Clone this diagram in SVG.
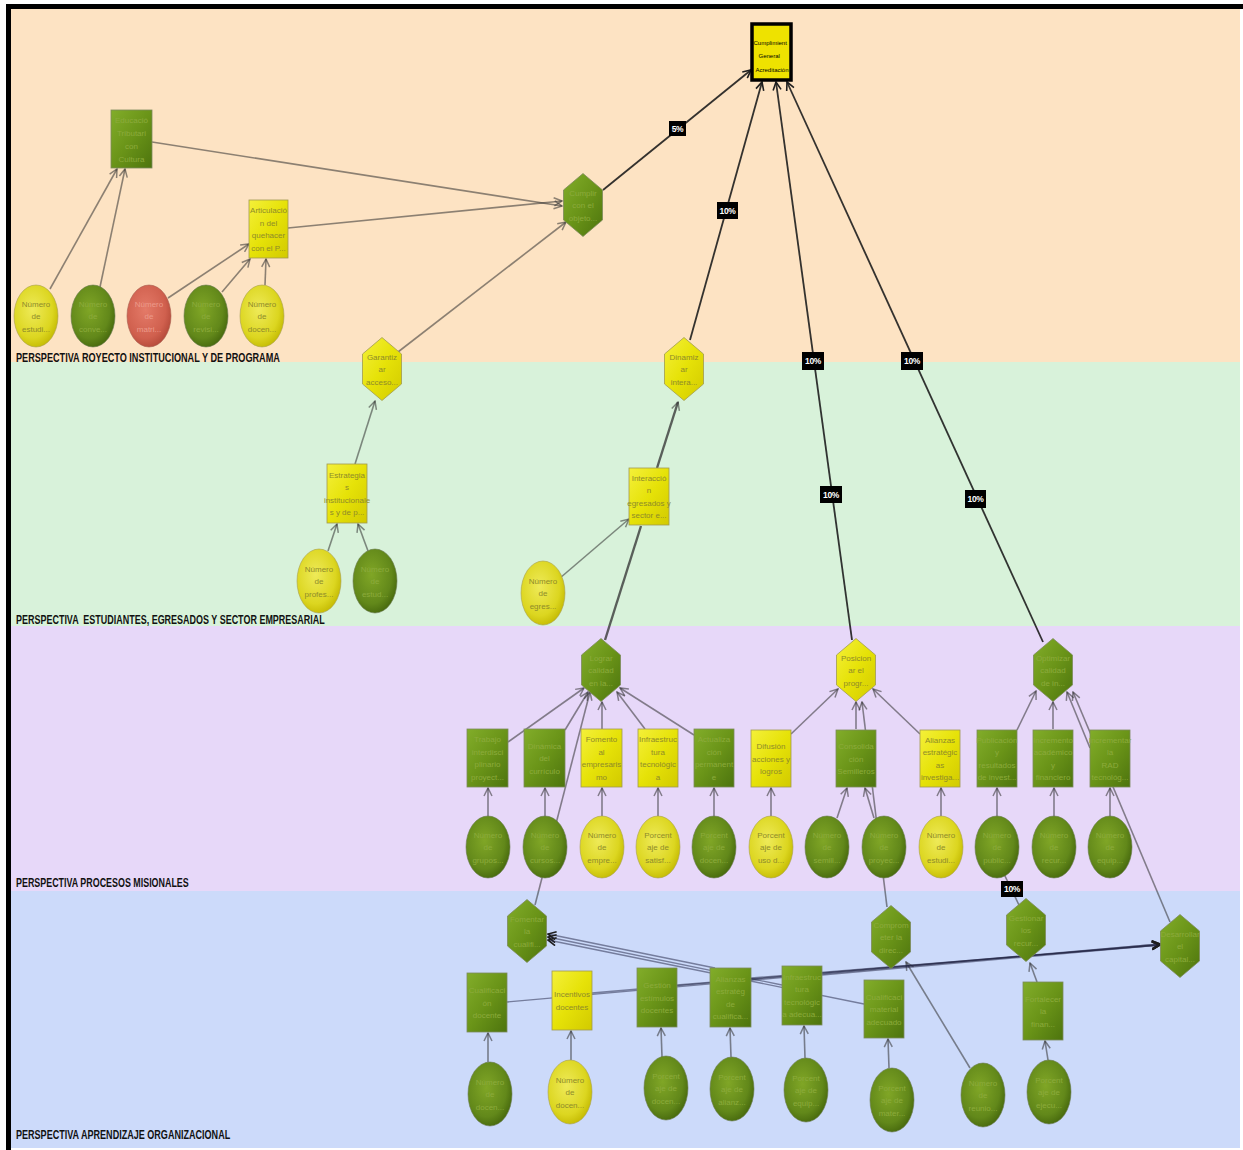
<svg xmlns="http://www.w3.org/2000/svg" width="1243" height="1150" viewBox="0 0 1243 1150">
  <defs>
    <style>
      .bx-g{fill:url(#lgGreen);stroke:#7c8a5c;stroke-width:0.8}
      .bx-y{fill:url(#lgYellow);stroke:#a09a50;stroke-width:0.8}
      .el-g{fill:url(#rgGreen);stroke:#6a7a50;stroke-width:0.6}
      .el-y{fill:url(#rgYellow);stroke:#a8a050;stroke-width:0.6}
      .el-r{fill:url(#rgRed);stroke:#a86050;stroke-width:0.6}
      .t{font-family:"Liberation Sans",Arial,sans-serif;font-size:8px;text-anchor:middle}
      .tg{fill:#8cab3c}
      .ty{fill:#8e8b2a}
      .tr{fill:#ec9a8a}
      .e{stroke:#303030;stroke-opacity:0.55;stroke-width:1.6;fill:none;marker-end:url(#arr)}
      .en{stroke:#303030;stroke-opacity:0.55;stroke-width:1.6;fill:none}
      .ed{stroke:#1e1e1e;stroke-opacity:0.9;stroke-width:1.8;fill:none;marker-end:url(#arrD)}
      .eb{stroke:#1e2040;stroke-opacity:0.5;stroke-width:1.3;fill:none;marker-end:url(#arrD)}
      .ek{stroke:#3a3a3a;stroke-opacity:0.8;stroke-width:2.4;fill:none}
      .pct rect{fill:#000}
      .pct text{font-family:"Liberation Sans",Arial,sans-serif;font-size:8.5px;font-weight:bold;fill:#fff;text-anchor:middle;letter-spacing:-0.4px}
      .band-label{font-family:"Liberation Sans",Arial,sans-serif;font-size:13px;font-weight:bold;fill:#111}
    </style>
    <linearGradient id="lgGreen" x1="0" y1="0" x2="1" y2="1">
      <stop offset="0" stop-color="#82ad2a"/>
      <stop offset="0.5" stop-color="#6a9418"/>
      <stop offset="1" stop-color="#4d740e"/>
    </linearGradient>
    <linearGradient id="lgYellow" x1="0" y1="0" x2="1" y2="1">
      <stop offset="0" stop-color="#f4f03a"/>
      <stop offset="0.5" stop-color="#e6e208"/>
      <stop offset="1" stop-color="#d2ca00"/>
    </linearGradient>
    <radialGradient id="rgGreen" cx="0.42" cy="0.4" r="0.65">
      <stop offset="0" stop-color="#80a626"/>
      <stop offset="0.7" stop-color="#62881a"/>
      <stop offset="1" stop-color="#44660c"/>
    </radialGradient>
    <radialGradient id="rgYellow" cx="0.42" cy="0.4" r="0.65">
      <stop offset="0" stop-color="#eeea58"/>
      <stop offset="0.7" stop-color="#dcd620"/>
      <stop offset="1" stop-color="#c2b800"/>
    </radialGradient>
    <radialGradient id="rgRed" cx="0.42" cy="0.4" r="0.65">
      <stop offset="0" stop-color="#e47a68"/>
      <stop offset="0.7" stop-color="#d0604e"/>
      <stop offset="1" stop-color="#b24838"/>
    </radialGradient>
    <marker id="arr" viewBox="0 0 10 10" refX="9" refY="5" markerWidth="10" markerHeight="10" markerUnits="userSpaceOnUse" orient="auto">
      <path d="M1,1 L9,5 L1,9" fill="none" stroke="#303030" stroke-opacity="0.55" stroke-width="1.5"/>
    </marker>
    <marker id="arrD" viewBox="0 0 10 10" refX="9" refY="5" markerWidth="10" markerHeight="10" markerUnits="userSpaceOnUse" orient="auto">
      <path d="M1,1 L9,5 L1,9" fill="none" stroke="#1e1e1e" stroke-width="1.6"/>
    </marker>
    <polygon id="hex" points="0,-31.5 19.5,-15 19.5,15 0,31.5 -19.5,15 -19.5,-15"/>
  </defs>

  <!-- page and perspective bands -->
  <rect x="0" y="0" width="1243" height="1150" fill="#ffffff"/>
  <rect x="11" y="9" width="1229" height="353" fill="#fde3c3"/>
  <rect x="11" y="362" width="1229" height="264" fill="#d8f2da"/>
  <rect x="11" y="626" width="1229" height="265" fill="#e7d8f9"/>
  <rect x="11" y="891" width="1229" height="257" fill="#ccdafa"/>
  <rect x="6" y="4" width="1237" height="5" fill="#000"/>
  <rect x="6" y="4" width="5" height="1146" fill="#000"/>

  <!-- perspective titles, set in a condensed bold face -->
  <g id="band-labels">
    <text class="band-label" transform="translate(16,362) scale(0.68,1)" textLength="388" lengthAdjust="spacingAndGlyphs">PERSPECTIVA ROYECTO INSTITUCIONAL Y DE PROGRAMA</text>
    <text class="band-label" transform="translate(16,624) scale(0.68,1)" textLength="454" lengthAdjust="spacingAndGlyphs">PERSPECTIVA &#160;ESTUDIANTES, EGRESADOS Y SECTOR EMPRESARIAL</text>
    <text class="band-label" transform="translate(16,887) scale(0.68,1)" textLength="254" lengthAdjust="spacingAndGlyphs">PERSPECTIVA PROCESOS MISIONALES</text>
    <text class="band-label" transform="translate(16,1139) scale(0.68,1)" textLength="315" lengthAdjust="spacingAndGlyphs">PERSPECTIVA APRENDIZAJE ORGANIZACIONAL</text>
  </g>

  <!-- connectors -->
  <g id="connectors">
    <!-- institutional perspective -->
    <line class="e" x1="50" y1="289" x2="117" y2="169"/>
    <line class="e" x1="100" y1="287" x2="125" y2="169"/>
    <line class="e" x1="168" y1="298" x2="249" y2="244"/>
    <line class="e" x1="222" y1="292" x2="250" y2="259"/>
    <line class="e" x1="265" y1="285" x2="266" y2="259"/>
    <line class="e" x1="152" y1="142" x2="562" y2="206"/>
    <line class="e" x1="288" y1="228" x2="562" y2="201"/>
    <line class="e" x1="398" y1="352" x2="566" y2="222"/>
    <line class="ed" x1="603" y1="190" x2="751" y2="70"/>
    <line class="ed" x1="690" y1="340" x2="762" y2="82"/>
    <line class="ed" x1="852" y1="640" x2="776" y2="82"/>
    <line class="ed" x1="1043" y1="642" x2="787" y2="82"/>

    <!-- students / graduates perspective -->
    <line class="e" x1="355" y1="464" x2="375" y2="401"/>
    <line class="e" x1="328" y1="551" x2="337" y2="524"/>
    <line class="e" x1="368" y1="551" x2="358" y2="524"/>
    <line class="e" x1="560" y1="578" x2="629" y2="519"/>
    <line class="ek" x1="657" y1="468" x2="678" y2="402" marker-end="url(#arr)"/>
    <line class="ek" x1="605" y1="640" x2="641" y2="526"/>

    <!-- mission processes perspective -->
    <line class="e" x1="508" y1="742" x2="584" y2="688"/>
    <line class="e" x1="565" y1="730" x2="588" y2="692"/>
    <line class="e" x1="602" y1="729" x2="602" y2="702"/>
    <line class="e" x1="645" y1="729" x2="617" y2="692"/>
    <line class="e" x1="694" y1="735" x2="620" y2="688"/>
    <line class="e" x1="535" y1="905" x2="590" y2="692"/>
    <line class="e" x1="488" y1="816" x2="488" y2="788"/>
    <line class="e" x1="545" y1="816" x2="545" y2="788"/>
    <line class="e" x1="602" y1="816" x2="602" y2="788"/>
    <line class="e" x1="658" y1="816" x2="658" y2="788"/>
    <line class="e" x1="714" y1="816" x2="714" y2="788"/>
    <line class="e" x1="771" y1="816" x2="771" y2="788"/>
    <line class="e" x1="837" y1="818" x2="847" y2="788"/>
    <line class="e" x1="874" y1="818" x2="865" y2="788"/>
    <line class="e" x1="941" y1="816" x2="941" y2="788"/>
    <line class="e" x1="997" y1="816" x2="997" y2="788"/>
    <line class="e" x1="1054" y1="816" x2="1054" y2="788"/>
    <line class="e" x1="1110" y1="816" x2="1110" y2="788"/>
    <line class="e" x1="791" y1="734" x2="838" y2="689"/>
    <line class="e" x1="856" y1="729" x2="856" y2="702"/>
    <line class="e" x1="887" y1="907" x2="862" y2="702"/>
    <line class="e" x1="920" y1="734" x2="873" y2="689"/>
    <line class="e" x1="1017" y1="730" x2="1036" y2="691"/>
    <line class="e" x1="1053" y1="729" x2="1053" y2="702"/>
    <line class="e" x1="1090" y1="748" x2="1067" y2="692"/>
    <line class="e" x1="1170" y1="922" x2="1073" y2="692"/>
    <line class="en" x1="1019" y1="905" x2="1004" y2="874"/>

    <!-- organizational learning perspective -->
    <line class="e" x1="488" y1="1062" x2="488" y2="1033"/>
    <line class="e" x1="571" y1="1060" x2="571" y2="1031"/>
    <line class="e" x1="662" y1="1057" x2="661" y2="1028"/>
    <line class="e" x1="731" y1="1057" x2="730" y2="1028"/>
    <line class="e" x1="805" y1="1058" x2="804" y2="1026"/>
    <line class="e" x1="889" y1="1068" x2="888" y2="1039"/>
    <line class="e" x1="1048" y1="1060" x2="1045" y2="1041"/>
    <line class="e" x1="970" y1="1068" x2="906" y2="962"/>
    <line class="e" x1="1037" y1="982" x2="1030" y2="963"/>
    <line class="eb" x1="715" y1="968" x2="548" y2="934"/>
    <line class="eb" x1="782" y1="985" x2="548" y2="937"/>
    <line class="eb" x1="864" y1="1004" x2="548" y2="940"/>
    <line class="eb" x1="507" y1="1002" x2="1160" y2="944"/>
    <line class="eb" x1="592" y1="993" x2="1160" y2="944"/>
    <line class="eb" x1="677" y1="985" x2="1160" y2="945"/>
    <line class="eb" x1="751" y1="978" x2="1160" y2="945"/>
    <line class="eb" x1="822" y1="975" x2="1160" y2="945"/>
  </g>

  <!-- weight labels -->
  <g id="weights" class="pct">
    <rect x="669" y="121" width="17" height="15"/><text x="677.5" y="131.5">5%</text>
    <rect x="717" y="202" width="21" height="17"/><text x="727.5" y="213.5">10%</text>
    <rect x="802" y="352" width="22" height="18"/><text x="813" y="364">10%</text>
    <rect x="820" y="486" width="22" height="17"/><text x="831" y="497.5">10%</text>
    <rect x="901" y="352" width="22" height="18"/><text x="912" y="364">10%</text>
    <rect x="965" y="490" width="21" height="18"/><text x="975.5" y="502">10%</text>
    <rect x="1001" y="881" width="22" height="16"/><text x="1012" y="892">10%</text>
  </g>

  <!-- root indicator -->
  <g id="n-cumplimiento">
    <rect x="752" y="24" width="39" height="56" fill="#eee200" stroke="#000" stroke-width="3.5"/>
    <text font-family="Liberation Sans,Arial,sans-serif" font-size="6" fill="#000" text-anchor="middle">
      <tspan x="771" y="45">Cumplimient</tspan>
      <tspan x="770" y="58">General</tspan>
      <tspan x="772" y="72">Acreditación</tspan>
    </text>
  </g>

  <!-- institutional perspective nodes -->
  <g id="n-educacion">
    <rect class="bx-g" x="111" y="110" width="41" height="58"/>
    <text class="t tg"><tspan x="131.5" y="123">Educació</tspan><tspan x="131.5" y="136">Tributari</tspan><tspan x="131.5" y="149">con</tspan><tspan x="131.5" y="162">Cultura</tspan></text>
  </g>
  <g id="n-articulacion">
    <rect class="bx-y" x="249" y="200" width="39" height="58"/>
    <text class="t ty"><tspan x="268.5" y="213">Articulació</tspan><tspan x="268.5" y="225.5">n del</tspan><tspan x="268.5" y="238">quehacer</tspan><tspan x="268.5" y="250.5">con el P...</tspan></text>
  </g>
  <g id="n-ind-estudiantes">
    <ellipse class="el-y" cx="36" cy="316" rx="22" ry="31"/>
    <text class="t ty"><tspan x="36" y="306.5">Número</tspan><tspan x="36" y="319">de</tspan><tspan x="36" y="331.5">estudi...</tspan></text>
  </g>
  <g id="n-ind-2">
    <ellipse class="el-g" cx="93" cy="316" rx="22" ry="31"/>
    <text class="t tg"><tspan x="93" y="306.5">Número</tspan><tspan x="93" y="319">de</tspan><tspan x="93" y="331.5">conve...</tspan></text>
  </g>
  <g id="n-ind-3">
    <ellipse class="el-r" cx="149" cy="316" rx="22" ry="31"/>
    <text class="t tr"><tspan x="149" y="306.5">Número</tspan><tspan x="149" y="319">de</tspan><tspan x="149" y="331.5">matri...</tspan></text>
  </g>
  <g id="n-ind-4">
    <ellipse class="el-g" cx="206" cy="316" rx="22" ry="31"/>
    <text class="t tg"><tspan x="206" y="306.5">Número</tspan><tspan x="206" y="319">de</tspan><tspan x="206" y="331.5">revisi...</tspan></text>
  </g>
  <g id="n-ind-docentes">
    <ellipse class="el-y" cx="262" cy="316" rx="22" ry="31"/>
    <text class="t ty"><tspan x="262" y="306.5">Número</tspan><tspan x="262" y="319">de</tspan><tspan x="262" y="331.5">docen...</tspan></text>
  </g>
  <g id="n-cumplir">
    <use href="#hex" x="583" y="205" fill="url(#lgGreen)" stroke="#7c8a5c" stroke-width="0.8"/>
    <text class="t tg"><tspan x="583" y="195.5">Cumplir</tspan><tspan x="583" y="208">con el</tspan><tspan x="583" y="220.5">objeto...</tspan></text>
  </g>
  <g id="n-garantizar">
    <use href="#hex" x="382" y="369" fill="url(#lgYellow)" stroke="#a09a50" stroke-width="0.8"/>
    <text class="t ty"><tspan x="382" y="359.5">Garantiz</tspan><tspan x="382" y="372">ar</tspan><tspan x="382" y="384.5">acceso...</tspan></text>
  </g>
  <g id="n-dinamizar">
    <use href="#hex" x="684" y="369" fill="url(#lgYellow)" stroke="#a09a50" stroke-width="0.8"/>
    <text class="t ty"><tspan x="684" y="359.5">Dinamiz</tspan><tspan x="684" y="372">ar</tspan><tspan x="684" y="384.5">intera...</tspan></text>
  </g>

  <!-- students / graduates nodes -->
  <g id="n-estrategias">
    <rect class="bx-y" x="327" y="464" width="40" height="59"/>
    <text class="t ty"><tspan x="347" y="477.75">Estrategia</tspan><tspan x="347" y="490.25">s</tspan><tspan x="347" y="502.75">institucionale</tspan><tspan x="347" y="515.25">s y de p...</tspan></text>
  </g>
  <g id="n-interaccion">
    <rect class="bx-y" x="629" y="468" width="40" height="57"/>
    <text class="t ty"><tspan x="649" y="480.75">Interacció</tspan><tspan x="649" y="493.25">n</tspan><tspan x="649" y="505.75">egresados y</tspan><tspan x="649" y="518.25">sector e...</tspan></text>
  </g>
  <g id="n-ind-profes">
    <ellipse class="el-y" cx="319" cy="581" rx="22" ry="32"/>
    <text class="t ty"><tspan x="319" y="571.5">Número</tspan><tspan x="319" y="584">de</tspan><tspan x="319" y="596.5">profes...</tspan></text>
  </g>
  <g id="n-ind-6">
    <ellipse class="el-g" cx="375" cy="581" rx="22" ry="32"/>
    <text class="t tg"><tspan x="375" y="571.5">Número</tspan><tspan x="375" y="584">de</tspan><tspan x="375" y="596.5">estud...</tspan></text>
  </g>
  <g id="n-ind-egres">
    <ellipse class="el-y" cx="543" cy="593" rx="22" ry="32"/>
    <text class="t ty"><tspan x="543" y="583.5">Número</tspan><tspan x="543" y="596">de</tspan><tspan x="543" y="608.5">egres...</tspan></text>
  </g>

  <!-- mission processes nodes -->
  <g id="n-lograr">
    <use href="#hex" x="601" y="670" fill="url(#lgGreen)" stroke="#7c8a5c" stroke-width="0.8"/>
    <text class="t tg"><tspan x="601" y="660.5">Lograr</tspan><tspan x="601" y="673">calidad</tspan><tspan x="601" y="685.5">en la...</tspan></text>
  </g>
  <g id="n-posicionar">
    <use href="#hex" x="856" y="670" fill="url(#lgYellow)" stroke="#a09a50" stroke-width="0.8"/>
    <text class="t ty"><tspan x="856" y="660.5">Posicion</tspan><tspan x="856" y="673">ar el</tspan><tspan x="856" y="685.5">progr...</tspan></text>
  </g>
  <g id="n-optimizar">
    <use href="#hex" x="1053" y="670" fill="url(#lgGreen)" stroke="#7c8a5c" stroke-width="0.8"/>
    <text class="t tg"><tspan x="1053" y="660.5">Optimizar</tspan><tspan x="1053" y="673">calidad</tspan><tspan x="1053" y="685.5">de in...</tspan></text>
  </g>
  <g id="n-trabajo">
    <rect class="bx-g" x="467" y="729" width="41" height="58"/>
    <text class="t tg"><tspan x="487.5" y="742.25">Trabajo</tspan><tspan x="487.5" y="754.75">interdisci</tspan><tspan x="487.5" y="767.25">plinario</tspan><tspan x="487.5" y="779.75">proyect...</tspan></text>
  </g>
  <g id="n-dinamica">
    <rect class="bx-g" x="524" y="729" width="41" height="58"/>
    <text class="t tg"><tspan x="544.5" y="748.5">Dinámica</tspan><tspan x="544.5" y="761">del</tspan><tspan x="544.5" y="773.5">currículo</tspan></text>
  </g>
  <g id="n-fomento">
    <rect class="bx-y" x="581" y="729" width="41" height="58"/>
    <text class="t ty"><tspan x="601.5" y="742.25">Fomento</tspan><tspan x="601.5" y="754.75">al</tspan><tspan x="601.5" y="767.25">empresaris</tspan><tspan x="601.5" y="779.75">mo</tspan></text>
  </g>
  <g id="n-infraestructura">
    <rect class="bx-y" x="638" y="729" width="40" height="58"/>
    <text class="t ty"><tspan x="658" y="742.25">Infraestruc</tspan><tspan x="658" y="754.75">tura</tspan><tspan x="658" y="767.25">tecnológic</tspan><tspan x="658" y="779.75">a</tspan></text>
  </g>
  <g id="n-actualizacion">
    <rect class="bx-g" x="694" y="729" width="40" height="58"/>
    <text class="t tg"><tspan x="714" y="742.25">Actualiza</tspan><tspan x="714" y="754.75">ción</tspan><tspan x="714" y="767.25">permanent</tspan><tspan x="714" y="779.75">e</tspan></text>
  </g>
  <g id="n-difusion">
    <rect class="bx-y" x="751" y="730" width="40" height="57"/>
    <text class="t ty"><tspan x="771" y="749">Difusión</tspan><tspan x="771" y="761.5">acciones y</tspan><tspan x="771" y="774">logros</tspan></text>
  </g>
  <g id="n-consolidacion">
    <rect class="bx-g" x="836" y="730" width="40" height="57"/>
    <text class="t tg"><tspan x="856" y="749">Consolida</tspan><tspan x="856" y="761.5">ción</tspan><tspan x="856" y="774">Semilleros</tspan></text>
  </g>
  <g id="n-alianzas-inv">
    <rect class="bx-y" x="920" y="730" width="40" height="57"/>
    <text class="t ty"><tspan x="940" y="742.75">Alianzas</tspan><tspan x="940" y="755.25">estratégic</tspan><tspan x="940" y="767.75">as</tspan><tspan x="940" y="780.25">investiga...</tspan></text>
  </g>
  <g id="n-publicacion">
    <rect class="bx-g" x="977" y="730" width="40" height="57"/>
    <text class="t tg"><tspan x="997" y="742.75">Publicación</tspan><tspan x="997" y="755.25">y</tspan><tspan x="997" y="767.75">resultados</tspan><tspan x="997" y="780.25">de invest...</tspan></text>
  </g>
  <g id="n-incremento">
    <rect class="bx-g" x="1033" y="730" width="40" height="57"/>
    <text class="t tg"><tspan x="1053" y="742.75">Incremento</tspan><tspan x="1053" y="755.25">académico</tspan><tspan x="1053" y="767.75">y</tspan><tspan x="1053" y="780.25">financiero</tspan></text>
  </g>
  <g id="n-incrementar-rad">
    <rect class="bx-g" x="1090" y="730" width="40" height="57"/>
    <text class="t tg"><tspan x="1110" y="742.75">Incrementar</tspan><tspan x="1110" y="755.25">la</tspan><tspan x="1110" y="767.75">RAD</tspan><tspan x="1110" y="780.25">tecnológ...</tspan></text>
  </g>
  <g id="n-ind-m1">
    <ellipse class="el-g" cx="488" cy="847" rx="22" ry="31"/>
    <text class="t tg"><tspan x="488" y="837.5">Número</tspan><tspan x="488" y="850">de</tspan><tspan x="488" y="862.5">grupos...</tspan></text>
  </g>
  <g id="n-ind-m2">
    <ellipse class="el-g" cx="545" cy="847" rx="22" ry="31"/>
    <text class="t tg"><tspan x="545" y="837.5">Número</tspan><tspan x="545" y="850">de</tspan><tspan x="545" y="862.5">cursos...</tspan></text>
  </g>
  <g id="n-ind-m3">
    <ellipse class="el-y" cx="602" cy="847" rx="22" ry="31"/>
    <text class="t ty"><tspan x="602" y="837.5">Número</tspan><tspan x="602" y="850">de</tspan><tspan x="602" y="862.5">empre...</tspan></text>
  </g>
  <g id="n-ind-m4">
    <ellipse class="el-y" cx="658" cy="847" rx="22" ry="31"/>
    <text class="t ty"><tspan x="658" y="837.5">Porcent</tspan><tspan x="658" y="850">aje de</tspan><tspan x="658" y="862.5">satisf...</tspan></text>
  </g>
  <g id="n-ind-m5">
    <ellipse class="el-g" cx="714" cy="847" rx="22" ry="31"/>
    <text class="t tg"><tspan x="714" y="837.5">Porcent</tspan><tspan x="714" y="850">aje de</tspan><tspan x="714" y="862.5">docen...</tspan></text>
  </g>
  <g id="n-ind-m6">
    <ellipse class="el-y" cx="771" cy="847" rx="22" ry="31"/>
    <text class="t ty"><tspan x="771" y="837.5">Porcent</tspan><tspan x="771" y="850">aje de</tspan><tspan x="771" y="862.5">uso d...</tspan></text>
  </g>
  <g id="n-ind-m7">
    <ellipse class="el-g" cx="827" cy="847" rx="22" ry="31"/>
    <text class="t tg"><tspan x="827" y="837.5">Número</tspan><tspan x="827" y="850">de</tspan><tspan x="827" y="862.5">semill...</tspan></text>
  </g>
  <g id="n-ind-m8">
    <ellipse class="el-g" cx="884" cy="847" rx="22" ry="31"/>
    <text class="t tg"><tspan x="884" y="837.5">Número</tspan><tspan x="884" y="850">de</tspan><tspan x="884" y="862.5">proyec...</tspan></text>
  </g>
  <g id="n-ind-m9">
    <ellipse class="el-y" cx="941" cy="847" rx="22" ry="31"/>
    <text class="t ty"><tspan x="941" y="837.5">Número</tspan><tspan x="941" y="850">de</tspan><tspan x="941" y="862.5">estudi...</tspan></text>
  </g>
  <g id="n-ind-m10">
    <ellipse class="el-g" cx="997" cy="847" rx="22" ry="31"/>
    <text class="t tg"><tspan x="997" y="837.5">Número</tspan><tspan x="997" y="850">de</tspan><tspan x="997" y="862.5">public...</tspan></text>
  </g>
  <g id="n-ind-m11">
    <ellipse class="el-g" cx="1054" cy="847" rx="22" ry="31"/>
    <text class="t tg"><tspan x="1054" y="837.5">Número</tspan><tspan x="1054" y="850">de</tspan><tspan x="1054" y="862.5">recur...</tspan></text>
  </g>
  <g id="n-ind-m12">
    <ellipse class="el-g" cx="1110" cy="847" rx="22" ry="31"/>
    <text class="t tg"><tspan x="1110" y="837.5">Número</tspan><tspan x="1110" y="850">de</tspan><tspan x="1110" y="862.5">equip...</tspan></text>
  </g>

  <!-- organizational learning nodes -->
  <g id="n-fomentar">
    <use href="#hex" x="527" y="931" fill="url(#lgGreen)" stroke="#7c8a5c" stroke-width="0.8"/>
    <text class="t tg"><tspan x="527" y="921.5">Fomentar</tspan><tspan x="527" y="934">la</tspan><tspan x="527" y="946.5">cualifi...</tspan></text>
  </g>
  <g id="n-comprometer">
    <use href="#hex" x="891" y="937" fill="url(#lgGreen)" stroke="#7c8a5c" stroke-width="0.8"/>
    <text class="t tg"><tspan x="891" y="927.5">Comprom</tspan><tspan x="891" y="940">eter la</tspan><tspan x="891" y="952.5">direc...</tspan></text>
  </g>
  <g id="n-gestionar">
    <use href="#hex" x="1026" y="930" fill="url(#lgGreen)" stroke="#7c8a5c" stroke-width="0.8"/>
    <text class="t tg"><tspan x="1026" y="920.5">Gestionar</tspan><tspan x="1026" y="933">los</tspan><tspan x="1026" y="945.5">recur...</tspan></text>
  </g>
  <g id="n-desarrollar">
    <use href="#hex" x="1180" y="946" fill="url(#lgGreen)" stroke="#7c8a5c" stroke-width="0.8"/>
    <text class="t tg"><tspan x="1180" y="936.5">Desarrollar</tspan><tspan x="1180" y="949">el</tspan><tspan x="1180" y="961.5">capital...</tspan></text>
  </g>
  <g id="n-cualificacion">
    <rect class="bx-g" x="467" y="973" width="40" height="59"/>
    <text class="t tg"><tspan x="487" y="993">Cualificaci</tspan><tspan x="487" y="1005.5">ón</tspan><tspan x="487" y="1018">docente</tspan></text>
  </g>
  <g id="n-incentivos">
    <rect class="bx-y" x="552" y="971" width="40" height="59"/>
    <text class="t ty"><tspan x="572" y="997.25">Incentivos</tspan><tspan x="572" y="1009.75">docentes</tspan></text>
  </g>
  <g id="n-gestion-estimulos">
    <rect class="bx-g" x="637" y="968" width="40" height="59"/>
    <text class="t tg"><tspan x="657" y="988">Gestión</tspan><tspan x="657" y="1000.5">estímulos</tspan><tspan x="657" y="1013">docentes</tspan></text>
  </g>
  <g id="n-alianzas-cual">
    <rect class="bx-g" x="710" y="968" width="41" height="59"/>
    <text class="t tg"><tspan x="730.5" y="981.75">Alianzas</tspan><tspan x="730.5" y="994.25">estratég</tspan><tspan x="730.5" y="1006.75">de</tspan><tspan x="730.5" y="1019.25">cualifica...</tspan></text>
  </g>
  <g id="n-infra-adecuada">
    <rect class="bx-g" x="782" y="966" width="40" height="59"/>
    <text class="t tg"><tspan x="802" y="979.75">Infraestruc</tspan><tspan x="802" y="992.25">tura</tspan><tspan x="802" y="1004.75">tecnológic</tspan><tspan x="802" y="1017.25">a adecua...</tspan></text>
  </g>
  <g id="n-cual-material">
    <rect class="bx-g" x="864" y="980" width="40" height="58"/>
    <text class="t tg"><tspan x="884" y="999.5">Cualificaci</tspan><tspan x="884" y="1012">material</tspan><tspan x="884" y="1024.5">adecuado</tspan></text>
  </g>
  <g id="n-fortalecer">
    <rect class="bx-g" x="1023" y="982" width="40" height="58"/>
    <text class="t tg"><tspan x="1043" y="1001.5">Fortalecer</tspan><tspan x="1043" y="1014">la</tspan><tspan x="1043" y="1026.5">finan...</tspan></text>
  </g>
  <g id="n-ind-a1">
    <ellipse class="el-g" cx="490" cy="1094" rx="22" ry="32"/>
    <text class="t tg"><tspan x="490" y="1084.5">Número</tspan><tspan x="490" y="1097">de</tspan><tspan x="490" y="1109.5">docen...</tspan></text>
  </g>
  <g id="n-ind-a2">
    <ellipse class="el-y" cx="570" cy="1092" rx="22" ry="32"/>
    <text class="t ty"><tspan x="570" y="1082.5">Número</tspan><tspan x="570" y="1095">de</tspan><tspan x="570" y="1107.5">docen...</tspan></text>
  </g>
  <g id="n-ind-a3">
    <ellipse class="el-g" cx="666" cy="1088" rx="22" ry="32"/>
    <text class="t tg"><tspan x="666" y="1078.5">Porcent</tspan><tspan x="666" y="1091">aje de</tspan><tspan x="666" y="1103.5">docen...</tspan></text>
  </g>
  <g id="n-ind-a4">
    <ellipse class="el-g" cx="732" cy="1089" rx="22" ry="32"/>
    <text class="t tg"><tspan x="732" y="1079.5">Porcent</tspan><tspan x="732" y="1092">aje de</tspan><tspan x="732" y="1104.5">alianz...</tspan></text>
  </g>
  <g id="n-ind-a5">
    <ellipse class="el-g" cx="806" cy="1090" rx="22" ry="32"/>
    <text class="t tg"><tspan x="806" y="1080.5">Porcent</tspan><tspan x="806" y="1093">aje de</tspan><tspan x="806" y="1105.5">equip...</tspan></text>
  </g>
  <g id="n-ind-a6">
    <ellipse class="el-g" cx="892" cy="1100" rx="22" ry="32"/>
    <text class="t tg"><tspan x="892" y="1090.5">Porcent</tspan><tspan x="892" y="1103">aje de</tspan><tspan x="892" y="1115.5">mater...</tspan></text>
  </g>
  <g id="n-ind-a7">
    <ellipse class="el-g" cx="983" cy="1095" rx="22" ry="32"/>
    <text class="t tg"><tspan x="983" y="1085.5">Número</tspan><tspan x="983" y="1098">de</tspan><tspan x="983" y="1110.5">reunio...</tspan></text>
  </g>
  <g id="n-ind-a8">
    <ellipse class="el-g" cx="1049" cy="1092" rx="22" ry="32"/>
    <text class="t tg"><tspan x="1049" y="1082.5">Porcent</tspan><tspan x="1049" y="1095">aje de</tspan><tspan x="1049" y="1107.5">ejecu...</tspan></text>
  </g>
</svg>
